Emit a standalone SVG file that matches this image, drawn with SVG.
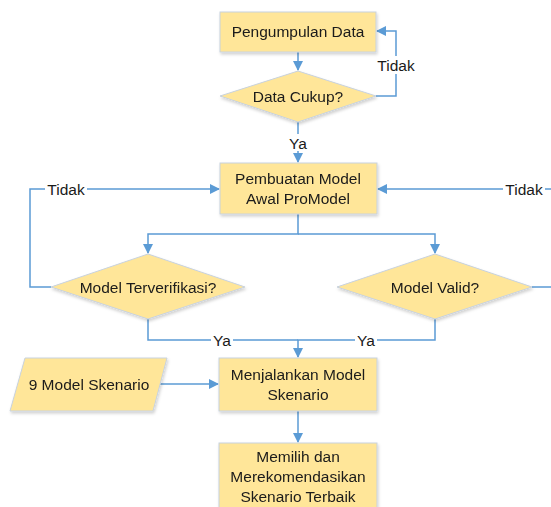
<svg xmlns="http://www.w3.org/2000/svg" width="551" height="507" viewBox="0 0 551 507">
<defs>
<style>
.n{fill:#FFE699;stroke:#C8D2DE;stroke-width:1}
.t{font-family:"Liberation Sans",Arial,sans-serif;font-size:15.5px;fill:#1a1a1a;text-anchor:middle}
.c{fill:none;stroke:#5B9BD5;stroke-width:1.5}
.lb{fill:#ffffff}
</style>
<marker id="ah" markerWidth="10" markerHeight="10" refX="9" refY="5" orient="auto" markerUnits="userSpaceOnUse">
<path d="M0,0 L10,5 L0,10 z" fill="#5B9BD5"/>
</marker>
<filter id="sh" x="-10%" y="-10%" width="130%" height="140%">
<feDropShadow dx="1" dy="2" stdDeviation="1.5" flood-color="#000" flood-opacity="0.18"/>
</filter>
</defs>
<rect width="551" height="507" fill="#ffffff"/>
<g id="connectors">
<path class="c" d="M298,52 V70" marker-end="url(#ah)"/>
<path class="c" d="M376,96 H396 V31 H377" marker-end="url(#ah)"/>
<path class="c" d="M298,122 V162" marker-end="url(#ah)"/>
<path class="c" d="M298,214 V234 H148 V253" marker-end="url(#ah)"/>
<path class="c" d="M298,234 H435 V253" marker-end="url(#ah)"/>
<path class="c" d="M51,287 H30 V189 H219" marker-end="url(#ah)"/>
<path class="c" d="M532,287 H560 V189 H378" marker-end="url(#ah)"/>
<path class="c" d="M148,319 V340 H298"/>
<path class="c" d="M435,319 V340 H298 V357" marker-end="url(#ah)"/>
<path class="c" d="M160,384 H218" marker-end="url(#ah)"/>
<path class="c" d="M298,411 V442" marker-end="url(#ah)"/>
<rect class="lb" x="376" y="56" width="40" height="18"/>
<text class="t" x="396" y="71">Tidak</text>
<rect class="lb" x="287" y="134" width="22" height="17"/>
<text class="t" x="298" y="149">Ya</text>
<rect class="lb" x="45" y="181" width="42" height="17"/>
<text class="t" x="66" y="195">Tidak</text>
<rect class="lb" x="503" y="181" width="42" height="17"/>
<text class="t" x="524" y="195">Tidak</text>
<rect class="lb" x="211" y="332" width="22" height="17"/>
<text class="t" x="222" y="346">Ya</text>
<rect class="lb" x="355" y="332" width="22" height="17"/>
<text class="t" x="366" y="346">Ya</text>
</g>
<g id="pengumpulan" filter="url(#sh)">
<rect class="n" x="220" y="12" width="156" height="40"/>
<text class="t" x="298" y="37">Pengumpulan Data</text>
</g>
<g id="data-cukup" filter="url(#sh)">
<polygon class="n" points="298,71 376,96 298,122 220,96"/>
<text class="t" x="298" y="102">Data Cukup?</text>
</g>
<g id="pembuatan" filter="url(#sh)">
<rect class="n" x="220" y="163" width="157" height="51"/>
<text class="t" x="298" y="184">Pembuatan Model</text>
<text class="t" x="298" y="204">Awal ProModel</text>
</g>
<g id="verifikasi" filter="url(#sh)">
<polygon class="n" points="148,254 245,287 148,319 51,287"/>
<text class="t" x="148" y="293">Model Terverifikasi?</text>
</g>
<g id="valid" filter="url(#sh)">
<polygon class="n" points="435,254 532,287 435,319 337,287"/>
<text class="t" x="435" y="293">Model Valid?</text>
</g>
<g id="skenario-input" filter="url(#sh)">
<polygon class="n" points="25,358 167,358 153,411 10,411"/>
<text class="t" x="89" y="390">9 Model Skenario</text>
</g>
<g id="menjalankan" filter="url(#sh)">
<rect class="n" x="219" y="358" width="158" height="53"/>
<text class="t" x="298" y="380">Menjalankan Model</text>
<text class="t" x="298" y="400">Skenario</text>
</g>
<g id="memilih" filter="url(#sh)">
<rect class="n" x="219" y="443" width="158" height="70"/>
<text class="t" x="298" y="462">Memilih dan</text>
<text class="t" x="298" y="482">Merekomendasikan</text>
<text class="t" x="298" y="502">Skenario Terbaik</text>
</g>
</svg>
